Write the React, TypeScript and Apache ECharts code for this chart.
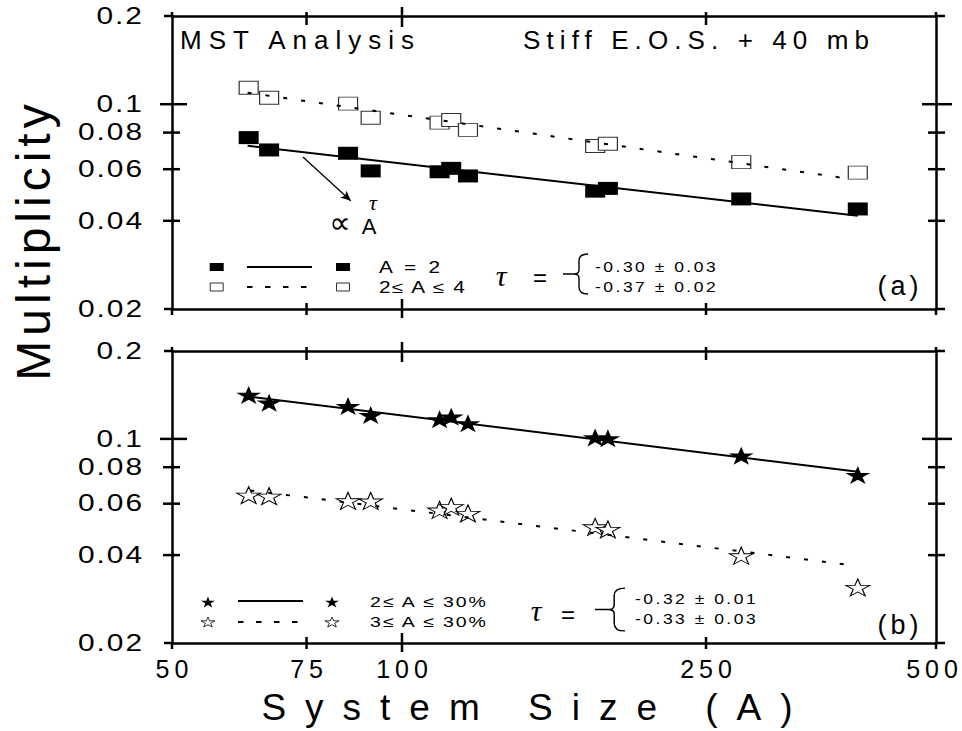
import React, { useEffect, useRef } from "react";
import * as echarts from "echarts";

// ---------------- data ----------------
const systemSize = [63, 67, 85, 91, 112, 116, 122, 179, 186, 278, 395];
const multA2 = [0.0769, 0.0698, 0.068, 0.0592, 0.0588, 0.0604, 0.0569, 0.0505, 0.0516, 0.0475, 0.0439];
const multA2to4 = [0.1138, 0.1052, 0.1004, 0.0899, 0.0865, 0.0883, 0.0817, 0.072, 0.0733, 0.0634, 0.0584];
const multA2to30 = [0.1414, 0.133, 0.1296, 0.1207, 0.1167, 0.1191, 0.1131, 0.1012, 0.1005, 0.0876, 0.0752];
const multA3to30 = [0.0642, 0.0637, 0.0614, 0.0613, 0.0571, 0.0586, 0.0556, 0.05, 0.049, 0.0398, 0.031];

const fitA2 = [[62.8, 0.0721], [395, 0.0416]];
const fitA2to4 = [[62.8, 0.1094], [386, 0.0556]];
const fitA2to30 = [[63.3, 0.1395], [395, 0.0772]];
const fitA3to30 = [[63.3, 0.0666], [380, 0.0372]];

const arrowFrom = [74.2, 0.066];
const arrowTo = [85.7, 0.0468];

const xRange = [50, 500];
const yRange = [0.02, 0.2];
const xTicks = [50, 75, 100, 250, 500];
const xTickLabels = ["50", "75", "100", "250", "500"];
const yTicks = [0.02, 0.04, 0.06, 0.08, 0.1, 0.2];
const yTickLabels = ["0.02", "0.04", "0.06", "0.08", "0.1", "0.2"];
const majorX = 100;
const majorY = 0.1;

const legendTop = ["A = 2", "2≤ A ≤ 4"];
const legendBottom = ["2≤ A ≤ 30%", "3≤ A ≤ 30%"];
const tauTop = ["-0.30 ± 0.03", "-0.37 ± 0.02"];
const tauBottom = ["-0.32 ± 0.01", "-0.33 ± 0.03"];

// ---------------- shapes ----------------
const STAR =
  "M50 0 L61.23 34.55 L97.55 34.55 L68.16 55.9 L79.39 90.45 L50 69.1 L20.61 90.45 L31.84 55.9 L2.45 34.55 L38.77 34.55 Z";
const BRACE =
  "M25 1 Q16 1 16 8 L16 17 Q16 21 11 21 L0 21 M11 21 Q16 21 16 25 L16 34 Q16 41 25 41";

let registered = false;
function registerShapes() {
  if (registered) return;
  registered = true;
  echarts.graphic.registerShape("star5", echarts.graphic.extendPath(STAR, {}) as any);
  echarts.graphic.registerShape("brace", echarts.graphic.extendPath(BRACE, {}) as any);
}

const SANS = "'Liberation Sans', Arial, sans-serif";
const SERIF = "'Liberation Serif', 'Times New Roman', serif";

const pair = (ys: number[]) => systemSize.map((x, i) => [x, ys[i]]);

export default function App() {
  const ref = useRef<HTMLDivElement>(null);

  useEffect(() => {
    if (!ref.current) return;
    registerShapes();
    const chart = echarts.init(ref.current, null, { renderer: "svg" });

    const axisLine = { show: true, onZero: false, lineStyle: { color: "#000", width: 2.5 } };
    const hidden = {
      axisLine,
      axisTick: { show: false },
      axisLabel: { show: false },
      splitLine: { show: false },
      minorTick: { show: false },
      minorSplitLine: { show: false },
    };
    const xAx = (g: number, pos: string) => ({
      type: "log", logBase: 10, gridIndex: g, position: pos, min: xRange[0], max: xRange[1], ...hidden,
    });
    const yAx = (g: number, pos: string) => ({
      type: "log", logBase: 10, gridIndex: g, position: pos, min: yRange[0], max: yRange[1], ...hidden,
    });

    const scatter = (data: number[][], ax: number, symbol: string, size: number[], fill: string, border: string, bw: number) => ({
      type: "scatter", xAxisIndex: ax, yAxisIndex: ax, data, symbol, symbolSize: size, z: 2, silent: true,
      itemStyle: { color: fill, borderColor: border, borderWidth: bw, opacity: 1 },
      emphasis: { disabled: true },
    });
    const fit = (data: number[][], ax: number, dashed: boolean, extra: any = {}) => ({
      type: "line", xAxisIndex: ax, yAxisIndex: ax, data, showSymbol: false, symbol: "none", z: 3, silent: true,
      lineStyle: { color: "#000", width: 2, type: dashed ? [4, 14] : "solid" },
      emphasis: { disabled: true },
      ...extra,
    });

    const base: any = {
      animation: false,
      backgroundColor: "#fff",
      grid: [
        { left: 172, top: 16, width: 764, height: 293 },
        { left: 172, top: 351, width: 764, height: 292 },
      ],
      xAxis: [xAx(0, "bottom"), xAx(0, "top"), xAx(1, "bottom"), xAx(1, "top")],
      yAxis: [yAx(0, "left"), yAx(0, "right"), yAx(1, "left"), yAx(1, "right")],
      series: [
        scatter(pair(multA2), 0, "rect", [20, 13], "#000", "#000", 0),
        scatter(pair(multA2to4), 0, "rect", [19, 13], "#fff", "#333", 1),
        fit(fitA2, 0, false, {
          markLine: {
            silent: true,
            symbol: ["none", "arrow"],
            symbolSize: [7, 10],
            label: { show: false },
            lineStyle: { color: "#000", width: 1.3, type: "solid" },
            emphasis: { disabled: true },
            data: [[{ coord: arrowFrom }, { coord: arrowTo }]],
          },
        }),
        fit(fitA2to4, 0, true),
        scatter(pair(multA2to30), 2, "path://" + STAR, [25, 18], "#000", "#000", 0),
        scatter(pair(multA3to30), 2, "path://" + STAR, [24, 17], "#fff", "#000", 1),
        fit(fitA2to30, 2, false),
        fit(fitA3to30, 2, true),
      ],
    };
    chart.setOption(base);

    // ------------ decorations: ticks, labels, legend, annotations ------------
    const spacing: Record<string, number> = {};
    const g: any[] = [];
    const line = (x1: number, y1: number, x2: number, y2: number, w = 2.5, dash?: number[]) =>
      g.push({
        type: "line", silent: true, z: 5,
        shape: { x1, y1, x2, y2 },
        style: { stroke: "#000", lineWidth: w, lineDash: dash },
      });
    const txt = (
      text: string, x: number, y: number,
      o: { size: number; align?: string; family?: string; italic?: boolean; sx?: number; rot?: number; sp?: number }
    ) => {
      const sp = o.sp ?? 0;
      spacing[text] = sp;
      const sx = o.sx ?? 1;
      const align = o.align ?? "left";
      let dx = 0;
      if (!o.rot) {
        if (align === "center") dx = (sp * sx) / 2;
        else if (align === "right") dx = sp * sx;
      }
      g.push({
        type: "text", silent: true, z: 10,
        x: x + dx, y, rotation: o.rot ?? 0, scaleX: sx,
        style: {
          text, fontSize: o.size, fontFamily: o.family ?? SANS, fontStyle: o.italic ? "italic" : "normal",
          fill: "#000", align, verticalAlign: "middle", textAlign: align, textVerticalAlign: "middle",
        },
      });
    };
    const rect = (cx: number, cy: number, w: number, h: number, filled: boolean) =>
      g.push({
        type: "rect", silent: true, z: 5,
        shape: { x: cx - w / 2, y: cy - h / 2, width: w, height: h },
        style: { fill: filled ? "#000" : "#fff", stroke: filled ? "#000" : "#333", lineWidth: filled ? 0 : 1 },
      });
    const star = (cx: number, cy: number, w: number, h: number, filled: boolean) => {
      const sx = w / 95.1, sy = h / 90.45;
      g.push({
        type: "star5", silent: true, z: 5,
        x: cx - 50 * sx, y: cy - 45.2 * sy, scaleX: sx, scaleY: sy,
        style: { fill: filled ? "#000" : "#fff", stroke: "#000", lineWidth: filled ? 0 : 0.9 / sx },
      });
    };
    const brace = (x: number, y: number, w: number, h: number) => {
      const sx = w / 25, sy = h / 42;
      g.push({
        type: "brace", silent: true, z: 5, x, y, scaleX: sx, scaleY: sy,
        style: { fill: "none", stroke: "#000", lineWidth: 1.4, strokeNoScale: true },
      });
    };

    const px = (v: number, i: number) => chart.convertToPixel({ xAxisIndex: i } as any, v) as unknown as number;
    const py = (v: number, i: number) => chart.convertToPixel({ yAxisIndex: i } as any, v) as unknown as number;

    [0, 1].forEach((p) => {
      const ai = 2 * p;
      const xL = px(xRange[0], ai), xR = px(xRange[1], ai);
      const yT = py(yRange[1], ai), yB = py(yRange[0], ai);
      yTicks.forEach((v, i) => {
        const y = py(v, ai);
        const end = v === yRange[0] || v === yRange[1];
        if (end) {
          line(xL - 8, y, xL, y);
          line(xR, y, xR + 9, y);
        } else if (v === majorY) {
          line(xL - 12, y, xL + 15, y);
          line(xR - 14, y, xR + 16, y);
        } else {
          line(xL - 9, y, xL + 8, y);
          line(xR - 8, y, xR + 9, y);
        }
        txt(yTickLabels[i], xL - 30, y, { size: 23, align: "right", sx: 1.3, sp: 1.5 });
      });
      xTicks.forEach((v, i) => {
        const x = px(v, ai);
        const end = v === xRange[0] || v === xRange[1];
        if (end) {
          line(x, yT - 4, x, yT);
          line(x, yB, x, yB + 6);
        } else if (v === majorX) {
          line(x, yT - 9, x, yT + 11);
          line(x, yB - 10, x, yB + 9);
        } else {
          line(x, yT - 4, x, yT + 9);
          line(x, yB - 6, x, yB + 6);
        }
        if (p === 1) txt(xTickLabels[i], Math.min(x, 932), yB + 26, { size: 25, align: "center", sp: 5 });
      });
    });

    // titles
    txt("MST Analysis", 180, 40, { size: 26, sp: 7 });
    txt("Stiff E.O.S. + 40 mb", 523, 40, { size: 26, sp: 6.1 });
    txt("Multiplicity", 33, 240, { size: 48, align: "center", rot: Math.PI / 2, sp: 5 });
    txt("System Size (A)", 527, 707, { size: 37, align: "center", sp: 19 });

    // top legend
    rect(216.7, 267, 14, 8, true);
    line(247, 267, 312, 267, 2);
    rect(343, 267, 14, 8, true);
    txt(legendTop[0], 379, 267, { size: 16, sx: 1.3, sp: 2.5 });
    rect(216.7, 287, 13, 8, false);
    line(247, 287, 307, 287, 2, [5.5, 12.5]);
    rect(343, 287, 13, 8, false);
    txt(legendTop[1], 379, 287, { size: 16, sx: 1.3, sp: 1.2 });
    txt("τ", 501, 275, { size: 30, family: SERIF, italic: true, align: "center" });
    txt("=", 540, 277, { size: 24, align: "center" });
    brace(563, 253, 25, 42);
    txt(tauTop[0], 595, 267, { size: 14, sx: 1.25, sp: 2 });
    txt(tauTop[1], 595, 287, { size: 14, sx: 1.25, sp: 2 });
    txt("(a)", 898, 286, { size: 27, align: "center", sp: 4 });

    // annotation
    txt("∝", 340, 222, { size: 30, family: "'DejaVu Sans', sans-serif", align: "center" });
    txt("A", 369, 226, { size: 22, align: "center" });
    txt("τ", 373, 202, { size: 22, family: SERIF, italic: true, align: "center" });

    // bottom legend
    star(208, 602, 14, 11, true);
    line(238, 601, 303, 601, 2);
    star(332, 602, 14, 11, true);
    txt(legendBottom[0], 370, 602, { size: 15, sx: 1.3, sp: 1.5 });
    star(208, 622, 14, 10, false);
    line(238, 622, 300, 622, 2, [5.5, 12.5]);
    star(332, 622, 14, 10, false);
    txt(legendBottom[1], 370, 622, { size: 15, sx: 1.3, sp: 1.5 });
    txt("τ", 536, 610, { size: 30, family: SERIF, italic: true, align: "center" });
    txt("=", 568, 614, { size: 24, align: "center" });
    brace(595, 587, 30, 45);
    txt(tauBottom[0], 635, 599, { size: 14, sx: 1.25, sp: 2 });
    txt(tauBottom[1], 635, 619, { size: 14, sx: 1.25, sp: 2 });
    txt("(b)", 898, 625, { size: 27, align: "center", sp: 4 });

    chart.setOption({ graphic: { elements: g } });

    const applySpacing = () => {
      const el = ref.current;
      if (!el) return;
      el.querySelectorAll("text").forEach((t) => {
        const s = spacing[(t.textContent || "").trim()];
        if (s) t.setAttribute("letter-spacing", String(s));
      });
    };
    applySpacing();
    chart.on("finished", applySpacing);
    const raf = requestAnimationFrame(applySpacing);

    return () => {
      cancelAnimationFrame(raf);
      chart.dispose();
    };
  }, []);

  return (
    <div
      ref={ref}
      style={{ position: "fixed", left: 0, top: 0, width: 962, height: 731, background: "#fff" }}
    />
  );
}
